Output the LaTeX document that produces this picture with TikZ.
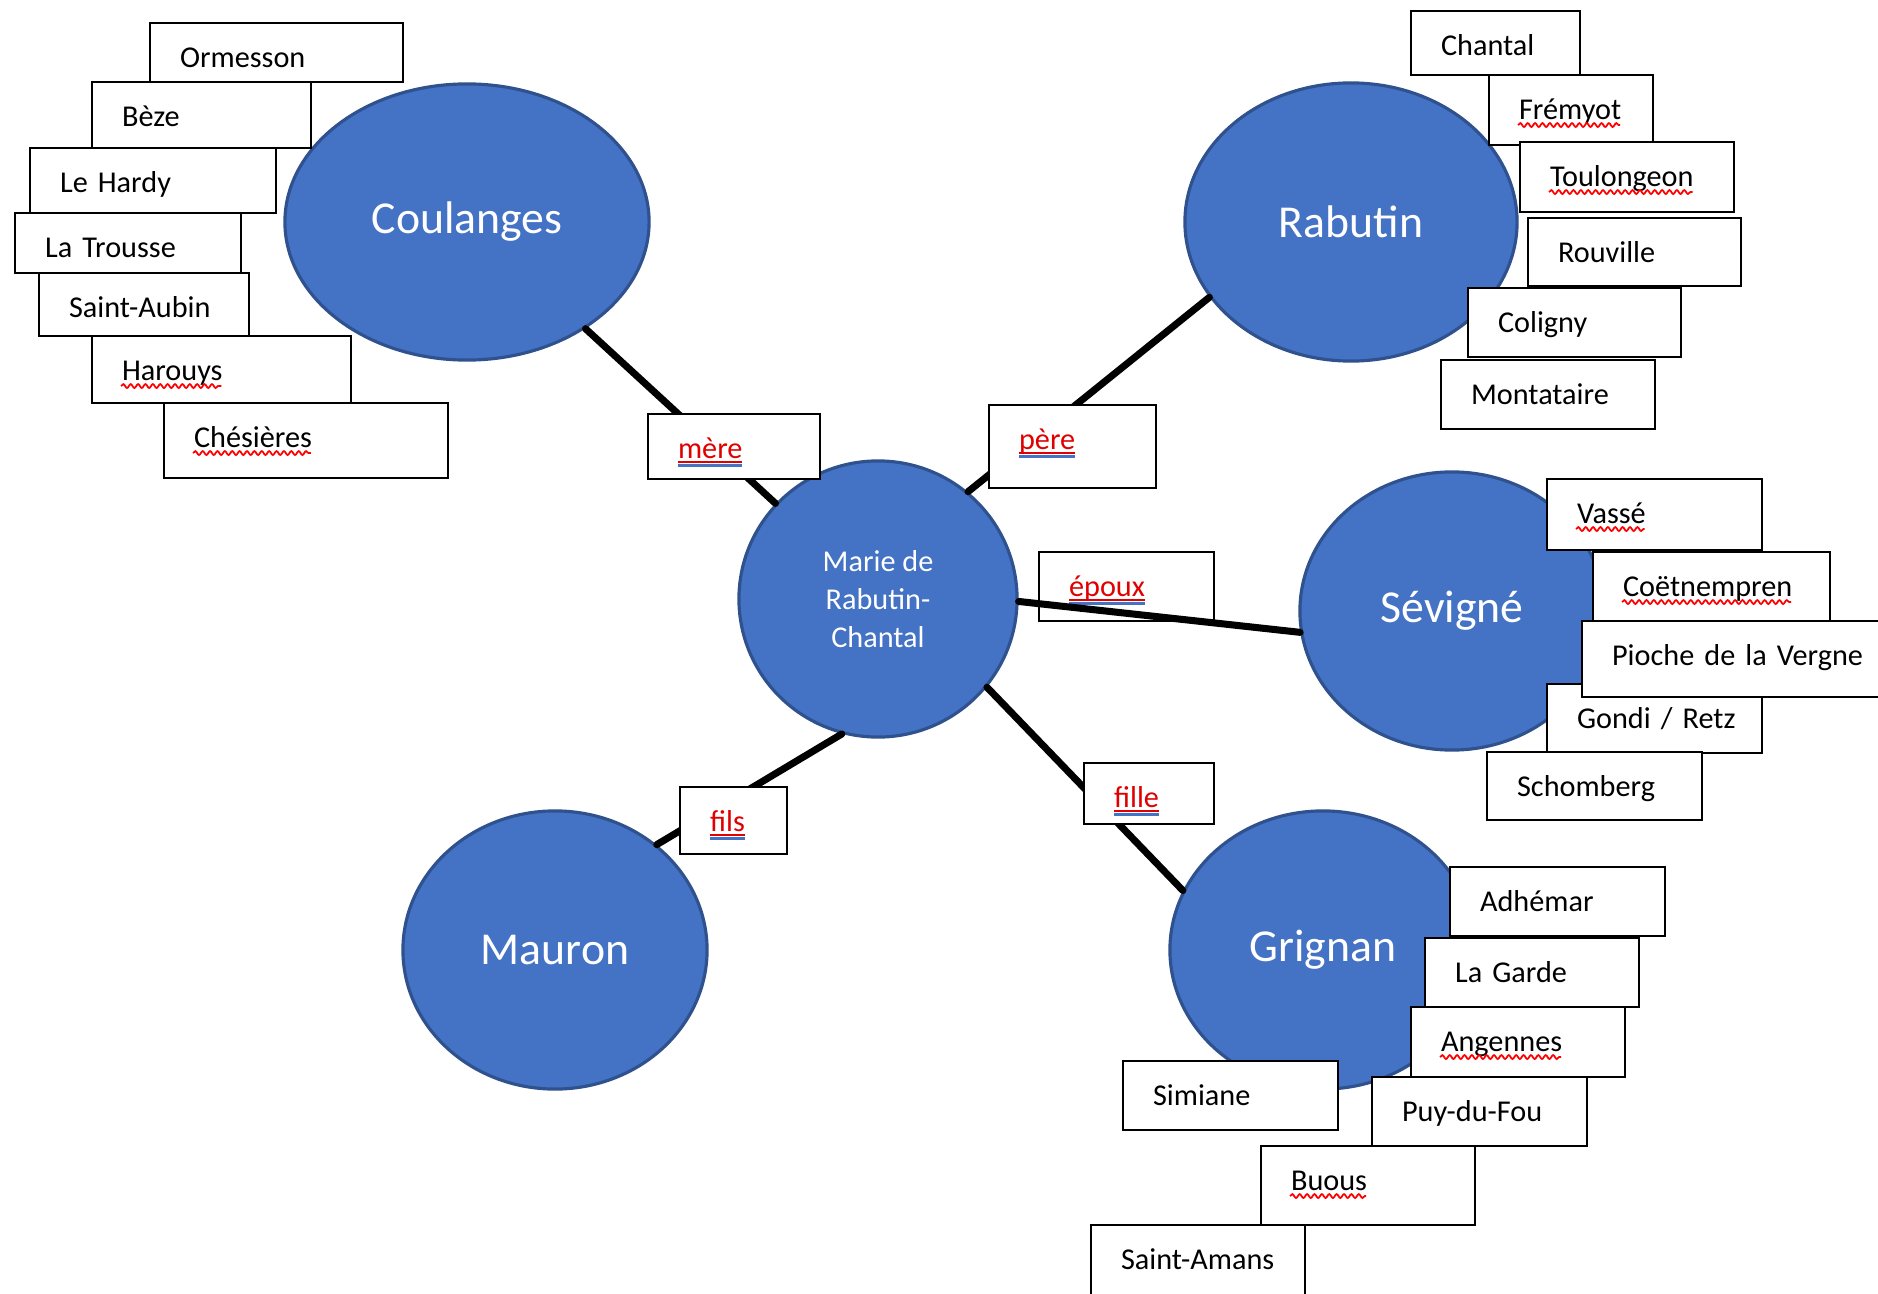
\documentclass[tikz,border=0pt]{standalone}
\usepackage{fontspec}
\setmainfont{Carlito}
\usetikzlibrary{shapes.geometric,decorations.pathmorphing}
\definecolor{bleuclan}{HTML}{4472C4}
\definecolor{bordclan}{HTML}{2F528F}
\definecolor{lienrouge}{HTML}{E00000}
\definecolor{lienbleu}{HTML}{4472C4}
\hyphenpenalty=10000 \exhyphenpenalty=10000
\newcommand{\petit}{\fontsize{8.6}{10.8}\selectfont}
% lien de parente
\newcommand{\lien}[1]{\setbox0=\hbox{#1}%
  \rlap{\color{lienrouge}\rule[-1.3pt]{\wd0}{0.45pt}}%
  \rlap{\color{lienbleu}\rule[-2.4pt]{\wd0}{0.6pt}}%
  \textcolor{lienrouge}{\box0}}
% mot souligne par le correcteur
\newlength{\largeur}
\newcommand{\mot}[1]{\setbox0=\hbox{#1}\global\largeur=\wd0\relax\box0}
\newcommand{\faute}[1]{\draw[vague] ([xshift=0.3cm, yshift=-1.7pt]#1.base west) -- ++(\largeur,0pt);}
\begin{document}
\begin{tikzpicture}[x=0.01cm, y=-0.01cm,
clan/.style={ellipse, draw=bordclan, line width=0.9pt, fill=bleuclan, text=white, inner sep=0pt, font=\fontsize{13}{15}\selectfont},
nom/.style={draw, fill=white, line width=0.6pt, anchor=north west, inner xsep=0.3cm, inner ysep=0pt, align=left, text height=0.44cm, text depth=0.25cm, font=\petit},
trait/.style={line width=2pt, line cap=round},
vague/.style={draw=red, line width=0.5pt, decorate, decoration={snake, amplitude=0.55pt, segment length=2.1pt}}]
\useasboundingbox (0,0) rectangle (1878,1294);
%\draw[help lines,step=100] (0,0) grid (1878,1294);
\node (coulanges) at (467,222) [clan, minimum width=3.64cm, minimum height=2.76cm] {Coulanges};
\node (rabutin) at (1351,222) [clan, minimum width=3.32cm, minimum height=2.78cm] {Rabutin};
\node (marie) at (878,599) [clan, minimum width=2.78cm, minimum height=2.76cm, align=center, font=\petit] {Marie de\\Rabutin-\\Chantal};
\node (sevigne) at (1452,611) [clan, minimum width=3.04cm, minimum height=2.78cm] {Sévigné};
\node (mauron) at (555,950) [clan, minimum width=3.04cm, minimum height=2.78cm] {Mauron};
\node (grignan) at (1323,950) [clan, minimum width=3.06cm, minimum height=2.78cm] {Grignan};

\foreach \a/\b in {coulanges.-42/marie.137, rabutin.-152/marie.50, mauron.46/marie.-105, grignan.157/marie.-39}
  \draw[trait] (\a) -- (\b);

\node (mere) at (647,413) [nom, text width=1.12cm, text depth=0.21cm] {\lien{mère}};
\node (pere) at (988,404) [nom, text width=1.07cm, text depth=0.39cm] {\lien{père}};
\node (epoux) at (1038,551) [nom, text width=1.15cm] {\lien{époux}};
\node (fils) at (679,786) [nom, text width=0.47cm, text depth=0.23cm] {\lien{fils}};
\node (fille) at (1083,762) [nom, text width=0.70cm, text depth=0.17cm] {\lien{fille}};
\draw[trait] (marie.-1) -- (sevigne.188);

% Coulanges
\node (ormesson) at (149,22) [nom, text width=1.93cm, text depth=0.15cm] {Ormesson};
\node (beze) at (91,81) [nom, text width=1.59cm, text depth=0.22cm] {Bèze};
\node (lehardy) at (29,147) [nom, text width=1.86cm, text depth=0.21cm] {Le Hardy};
\node (latrousse) at (14,212) [nom, text width=1.66cm, text depth=0.16cm] {La Trousse};
\node (saintaubin) at (38,272) [nom, text width=1.50cm, text depth=0.19cm] {Saint-Aubin};
\node (harouys) at (91,335) [nom, text width=1.99cm, text depth=0.23cm] {\mot{Harouys}}; \faute{harouys}
\node (chesieres) at (163,402) [nom, text width=2.24cm, text depth=0.31cm] {\mot{Chésières}}; \faute{chesieres}

% Rabutin
\node (chantal) at (1410,10) [nom, text width=1.09cm, text depth=0.20cm] {Chantal};
\node (fremyot) at (1488,74) [nom, text width=1.04cm, text depth=0.26cm] {\mot{Frémyot}}; \faute{fremyot}
\node (toulongeon) at (1519,141) [nom, text width=1.54cm, text depth=0.26cm] {\mot{Toulongeon}}; \faute{toulongeon}
\node (rouville) at (1527,217) [nom, text width=1.53cm, text depth=0.24cm] {Rouville};
\node (coligny) at (1467,287) [nom, text width=1.53cm] {Coligny};
\node (montataire) at (1440,359) [nom, text width=1.54cm] {Montataire};

% Sevigne
\node (vasse) at (1546,478) [nom, text width=1.55cm, text depth=0.27cm] {\mot{Vassé}}; \faute{vasse}
\node (coetnempren) at (1592,551) [nom, text width=1.77cm] {\mot{Coëtnempren}}; \faute{coetnempren}
\node (gondi) at (1546,683) [nom, text width=1.55cm] {\mbox{Gondi / Retz}};
\node (pioche) at (1581,620) [nom, text width=2.59cm, text depth=0.32cm] {Pioche de la Vergne};
\node (schomberg) at (1486,751) [nom, text width=1.55cm, text depth=0.24cm] {Schomberg};

% Grignan
\node (adhemar) at (1449,866) [nom, text width=1.55cm] {Adhémar};
\node (lagarde) at (1424,937) [nom, text width=1.54cm] {La Garde};
\node (angennes) at (1410,1006) [nom, text width=1.54cm, text depth=0.26cm] {\mot{Angennes}}; \faute{angennes}
\node (simiane) at (1122,1060) [nom, text width=1.55cm] {Simiane};
\node (puydufou) at (1371,1076) [nom, text width=1.55cm] {Puy-du-Fou};
\node (buous) at (1260,1145) [nom, text width=1.54cm, text depth=0.35cm] {\mot{Buous}}; \faute{buous}
\node (saintamans) at (1090,1224) [nom, text width=1.54cm, text depth=0.32cm] {Saint-Amans};
\end{tikzpicture}
\end{document}
